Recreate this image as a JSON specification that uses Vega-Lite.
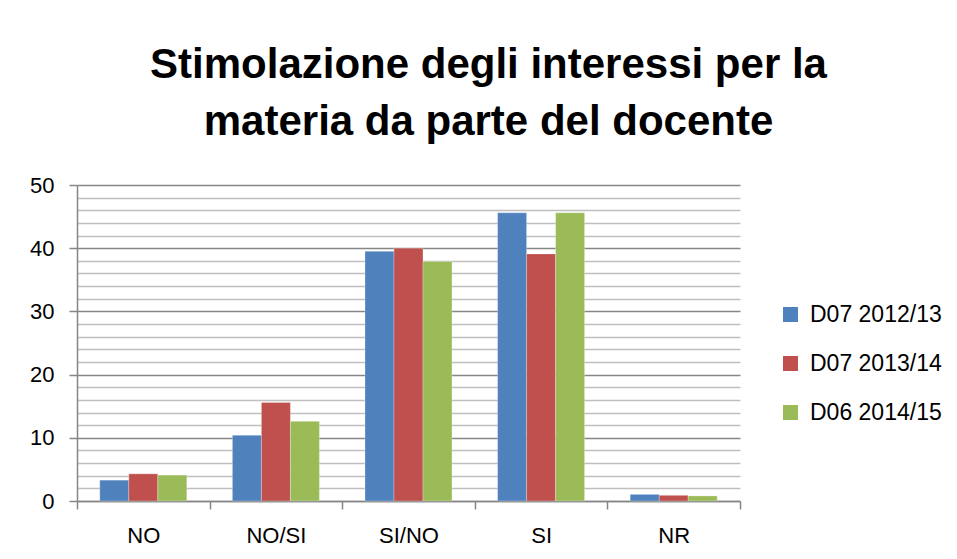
{
  "$schema": "https://vega.github.io/schema/vega-lite/v6.json",
  "autosize": {"type": "none"},
  "width": 663,
  "height": 316,
  "padding": {"left": 77, "top": 185, "right": 217, "bottom": 58},
  "background": "white",
  "config": {
    "font": "Liberation Sans",
    "view": {"stroke": null}
  },
  "title": {
    "text": ["Stimolazione degli interessi per la", "materia da parte del docente"],
    "fontSize": 42,
    "fontWeight": "bold",
    "font": "Liberation Sans",
    "color": "#000000",
    "lineHeight": 57,
    "anchor": "middle",
    "frame": "group",
    "dx": 80,
    "offset": 30
  },
  "data": {
    "values": [
      {"categoria": "NO", "serie": "D07 2012/13", "valore": 3.3},
      {"categoria": "NO", "serie": "D07 2013/14", "valore": 4.3},
      {"categoria": "NO", "serie": "D06 2014/15", "valore": 4.1},
      {"categoria": "NO/SI", "serie": "D07 2012/13", "valore": 10.4},
      {"categoria": "NO/SI", "serie": "D07 2013/14", "valore": 15.6},
      {"categoria": "NO/SI", "serie": "D06 2014/15", "valore": 12.6},
      {"categoria": "SI/NO", "serie": "D07 2012/13", "valore": 39.5},
      {"categoria": "SI/NO", "serie": "D07 2013/14", "valore": 40.0},
      {"categoria": "SI/NO", "serie": "D06 2014/15", "valore": 37.9},
      {"categoria": "SI", "serie": "D07 2012/13", "valore": 45.6},
      {"categoria": "SI", "serie": "D07 2013/14", "valore": 39.1},
      {"categoria": "SI", "serie": "D06 2014/15", "valore": 45.6},
      {"categoria": "NR", "serie": "D07 2012/13", "valore": 1.05},
      {"categoria": "NR", "serie": "D07 2013/14", "valore": 0.9},
      {"categoria": "NR", "serie": "D06 2014/15", "valore": 0.8}
    ]
  },
  "mark": {"type": "bar", "stroke": "#ffffff", "strokeOpacity": 0.35, "strokeWidth": 0.8},
  "encoding": {
    "x": {
      "field": "categoria",
      "type": "nominal",
      "sort": ["NO", "NO/SI", "SI/NO", "SI", "NR"],
      "scale": {"paddingInner": 0, "paddingOuter": 0},
      "axis": {
        "title": null,
        "labelAngle": 0,
        "labelFontSize": 22,
        "labelColor": "#000000",
        "labelPadding": 16,
        "domainColor": "#868686",
        "domainWidth": 1.5,
        "tickColor": "#868686",
        "tickWidth": 1.5,
        "tickSize": 8,
        "tickBand": "extent",
        "grid": false
      }
    },
    "xOffset": {
      "field": "serie",
      "type": "nominal",
      "sort": ["D07 2012/13", "D07 2013/14", "D06 2014/15"],
      "scale": {"paddingInner": 0, "paddingOuter": 0.786}
    },
    "y": {
      "field": "valore",
      "type": "quantitative",
      "scale": {"domain": [0, 50], "nice": false},
      "axis": {
        "title": null,
        "values": [0, 2, 4, 6, 8, 10, 12, 14, 16, 18, 20, 22, 24, 26, 28, 30, 32, 34, 36, 38, 40, 42, 44, 46, 48, 50],
        "labelExpr": "datum.value % 10 === 0 ? datum.label : ''",
        "labelFontSize": 22,
        "labelColor": "#000000",
        "labelPadding": 15,
        "domainColor": "#868686",
        "domainWidth": 1.5,
        "tickSize": 8,
        "tickWidth": 1.5,
        "tickColor": "#868686",
        "tickOpacity": {"condition": {"test": "datum.value % 10 === 0", "value": 1}, "value": 0},
        "grid": true,
        "gridWidth": 1.5,
        "gridColor": {"condition": {"test": "datum.value % 10 === 0", "value": "#868686"}, "value": "#bfbfbf"}
      }
    },
    "color": {
      "field": "serie",
      "type": "nominal",
      "sort": ["D07 2012/13", "D07 2013/14", "D06 2014/15"],
      "scale": {
        "domain": ["D07 2012/13", "D07 2013/14", "D06 2014/15"],
        "range": ["#4F81BD", "#C0504D", "#9BBB59"]
      },
      "legend": {
        "title": null,
        "orient": "none",
        "legendX": 702,
        "legendY": 118,
        "symbolType": "square",
        "symbolSize": 225,
        "symbolStrokeWidth": 0,
        "symbolOpacity": 1,
        "labelFontSize": 23,
        "labelColor": "#000000",
        "labelOffset": 8,
        "rowPadding": 25
      }
    }
  }
}
